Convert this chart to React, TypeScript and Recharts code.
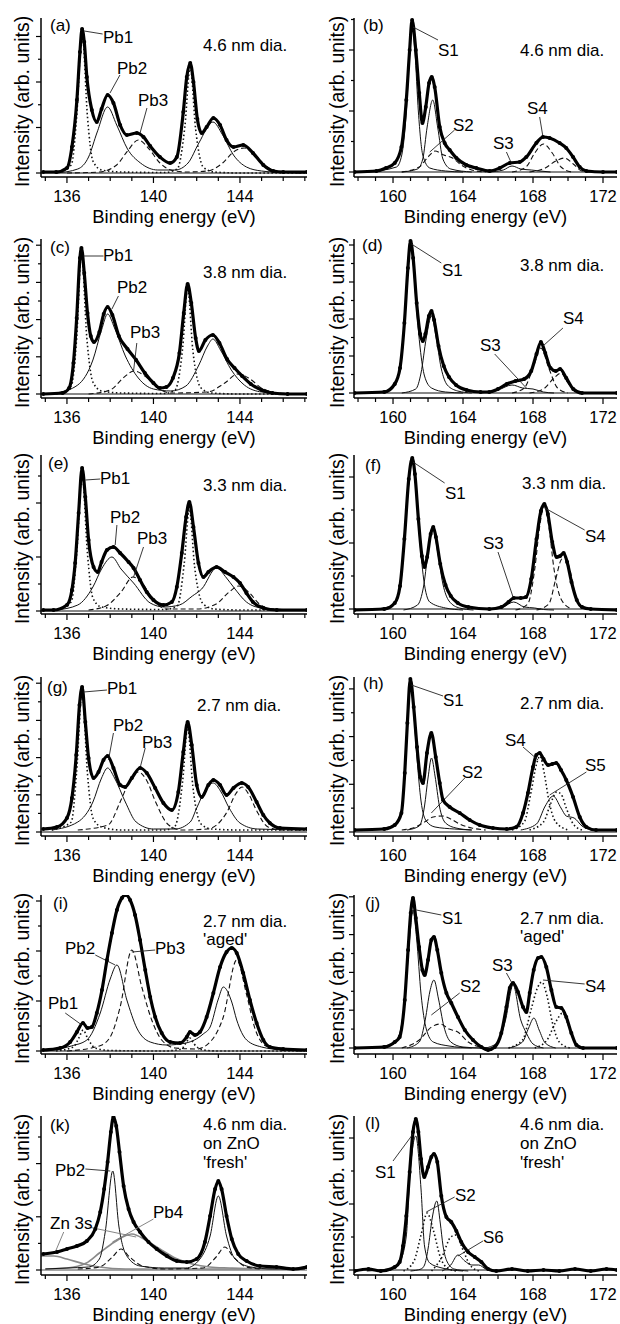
import React from 'react';
import { LineChart, Line, XAxis, YAxis, ReferenceLine } from 'recharts';

type P = [number, number];
type Kind = 'solid' | 'dashed' | 'dotted' | 'gray';

const FONT = '"Liberation Sans", Arial, Helvetica, sans-serif';

// ---- x ticks (eV) ----
const pbTicks = [135, 136, 137, 138, 139, 140, 141, 142, 143, 144, 145, 146, 147];
const sTicks = [158, 159, 160, 161, 162, 163, 164, 165, 166, 167, 168, 169, 170, 171, 172];
const pbDomain: [number, number] = [134.8, 147.1];
const sDomain: [number, number] = [157.77, 172.8];

// ---- (a) Pb 4f, 4.6 nm ----
const aTotal: P[] = [[134.9,5],[135.5,5],[136,9],[136.23,30],[136.46,77],[136.6,125],[136.7,148],[136.8,135],[136.92,100],[137.15,67],[137.38,55],[137.6,68],[137.88,82],[138.15,74],[138.46,52],[138.77,42],[139.23,44],[139.54,40],[139.85,31],[140.3,20],[140.77,14],[141.08,20],[141.38,65],[141.54,100],[141.7,114],[141.85,95],[142.03,58],[142.23,44],[142.46,50],[142.77,59],[143.08,52],[143.38,37],[143.7,30],[144.15,32],[144.6,24],[145.08,12],[145.54,6],[146,5],[147.1,5]];
const aPb1: P[] = [[135.5,4],[136.2,12],[136.45,60],[136.7,145],[136.95,60],[137.2,16],[137.6,7],[138.5,5],[140.5,4.5],[141.1,8],[141.45,50],[141.7,110],[141.95,48],[142.3,10],[142.8,5],[144,4],[147,4]];
const aPb2: P[] = [[135.5,4],[136.5,8],[137,20],[137.4,45],[137.88,70],[138.3,52],[138.8,28],[139.4,14],[140.2,7],[141,7],[141.6,14],[142.1,34],[142.75,55],[143.2,42],[143.7,22],[144.3,10],[145,6],[146,4.5],[147,4]];
const aPb3: P[] = [[136,4],[137.5,5],[138.3,12],[138.8,26],[139.3,37],[139.8,28],[140.3,14],[140.8,7],[141.5,5],[142.5,6],[143.2,14],[143.7,25],[144.2,29],[144.7,22],[145.2,11],[145.8,5],[147,4]];

// ---- (b) S 2p, 4.6 nm ----
const bTotal: P[] = [[157.8,5],[159.05,6],[159.6,9],[160.1,14],[160.48,30],[160.76,77],[160.95,127],[161.09,157],[161.3,127],[161.5,84],[161.68,54],[161.87,70],[162.06,94],[162.21,100],[162.38,90],[162.67,50],[162.95,34],[163.24,27],[163.62,19],[164.19,12],[164.76,9],[165.52,6],[166.1,9],[166.67,14],[167.24,15],[167.62,20],[168.19,34],[168.57,40],[168.95,39],[169.52,34],[169.9,29],[170.29,20],[170.67,10],[171.05,6],[172,5],[172.8,5]];
const bS1: P[] = [[158.5,5],[160.2,10],[160.5,22],[160.76,65],[160.95,125],[161.09,152],[161.25,125],[161.45,65],[161.7,22],[162.1,9],[163,6],[164,5]];
const bS1b: P[] = [[160.5,5],[161.4,8],[161.7,18],[161.95,50],[162.27,77],[162.55,50],[162.85,18],[163.3,8],[164.5,5]];
const bS2: P[] = [[160.5,5],[161.5,10],[162,20],[162.4,26],[162.9,22],[163.4,19],[163.9,12],[164.5,7],[165.3,5]];
const bS3: P[] = [[165.5,5],[166.3,7],[166.8,11],[167.3,8],[167.9,7],[168.4,6],[169,5]];
const bS4: P[] = [[166.8,5],[167.6,10],[168.1,24],[168.6,33],[169.1,24],[169.6,10],[170.2,5]];
const bS4b: P[] = [[167.8,5],[168.7,9],[169.3,16],[169.8,19],[170.3,13],[170.8,6],[171.3,5]];

// ---- (c) Pb 4f, 3.8 nm ----
const cTotal: P[] = [[134.9,4],[135.8,5],[136.1,10],[136.3,35],[136.45,80],[136.6,140],[136.67,150],[136.8,125],[136.95,85],[137.1,62],[137.25,56],[137.5,66],[137.7,84],[137.88,91],[138.1,83],[138.4,62],[138.8,49],[139.2,38],[139.6,25],[140,15],[140.3,10],[140.6,11],[140.9,20],[141.2,45],[141.4,85],[141.58,114],[141.75,95],[141.95,60],[142.1,47],[142.4,58],[142.75,63],[143.05,55],[143.4,39],[143.75,30],[144.1,22],[144.5,14],[145,8],[145.5,5],[146.2,4],[147.1,4]];
const cPb1: P[] = [[135.5,4],[136.2,12],[136.45,60],[136.67,145],[136.92,60],[137.2,16],[137.6,7],[138.5,5],[140.5,4.5],[141,8],[141.35,50],[141.58,110],[141.82,48],[142.2,10],[142.7,5],[144,4],[147,4]];
const cPb2: P[] = [[135.5,5],[136.5,13],[137.2,38],[137.6,68],[137.88,84],[138.2,70],[138.7,42],[139.3,20],[140,9],[140.8,7],[141.5,12],[142.1,33],[142.5,52],[142.75,59],[143.1,48],[143.6,28],[144.2,13],[145,6],[146,4.5],[147,4]];
const cPb3: P[] = [[137,4],[138,8],[138.6,20],[139.1,27],[139.6,22],[140.2,10],[140.8,5],[142.5,6],[143.3,15],[143.9,24],[144.4,20],[145,10],[145.8,5],[147,4]];

// ---- (d) S 2p, 3.8 nm ----
const dTotal: P[] = [[157.8,5],[159.5,6],[160.1,14],[160.4,30],[160.65,75],[160.85,130],[161,157],[161.15,140],[161.35,95],[161.55,64],[161.7,57],[161.85,64],[162.05,82],[162.2,87],[162.35,78],[162.6,52],[162.9,32],[163.2,21],[163.6,13],[164.2,8],[165,6],[165.5,6],[166,9],[166.5,14],[167,17],[167.5,19],[167.9,27],[168.2,44],[168.45,56],[168.7,45],[169,30],[169.3,27],[169.55,29],[169.9,20],[170.3,9],[170.8,5],[172.8,5]];
const dS1: P[] = [[158.5,5],[159.8,8],[160.4,28],[160.65,72],[160.85,127],[161,152],[161.15,135],[161.35,88],[161.55,50],[161.8,22],[162.2,10],[163,6],[164,5]];
const dS1b: P[] = [[160.5,5],[161.3,9],[161.6,25],[161.9,60],[162.2,82],[162.45,62],[162.75,30],[163.1,13],[163.7,7],[164.5,5]];
const dS3: P[] = [[165,5],[166,8],[166.8,13],[167.4,10],[168,9],[168.6,6],[169.2,5]];
const dS4: P[] = [[166.8,5],[167.5,10],[168,30],[168.45,50],[168.9,30],[169.4,10],[170,5]];
const dS4b: P[] = [[167.8,5],[168.6,9],[169.2,20],[169.6,25],[170,15],[170.5,6],[171,5]];

// ---- (e) Pb 4f, 3.3 nm ----
const eTotal: P[] = [[134.9,4],[135.38,4],[136,9],[136.23,24],[136.38,51],[136.54,101],[136.7,146],[136.85,117],[137,74],[137.23,47],[137.42,42],[137.6,52],[137.85,64],[138.15,67],[138.46,61],[138.85,52],[139.08,46],[139.38,34],[139.69,22],[140,14],[140.46,9],[140.85,12],[141.08,27],[141.31,61],[141.51,97],[141.66,112],[141.85,87],[142.08,51],[142.31,37],[142.54,42],[142.92,47],[143.31,42],[143.7,37],[144,31],[144.3,21],[144.6,12],[145.08,6],[145.7,4],[147.1,4]];
const ePb1: P[] = [[135.5,4],[136.2,12],[136.45,60],[136.7,140],[136.95,60],[137.2,16],[137.6,7],[138.5,5],[140.5,4.5],[141.1,8],[141.42,50],[141.66,105],[141.9,48],[142.3,10],[142.8,5],[144,4],[147,4]];
const ePb2: P[] = [[135.5,4],[136.5,9],[137.2,27],[137.6,45],[138.08,57],[138.5,45],[139.08,31],[139.85,11],[140.5,7],[141.2,9],[141.8,18],[142.23,25],[142.92,46],[143.38,36],[143.7,27],[144.3,12],[145,6],[146,4.5],[147,4]];
const ePb3: P[] = [[137,4],[137.8,8],[138.5,22],[139.05,37],[139.5,30],[140,14],[140.6,5],[142,5],[142.9,10],[143.5,22],[143.95,28],[144.4,22],[144.9,10],[145.5,5],[147,4]];

// ---- (f) S 2p, 3.3 nm ----
const fTotal: P[] = [[157.8,4],[159.5,5],[160.1,11],[160.4,28],[160.65,75],[160.9,135],[161.1,156],[161.25,140],[161.45,95],[161.65,58],[161.8,47],[161.95,57],[162.15,80],[162.3,87],[162.45,77],[162.7,50],[163,29],[163.3,18],[163.7,11],[164.3,7],[165.5,5],[166.2,7],[166.6,12],[166.9,16],[167.3,16],[167.6,17],[167.9,35],[168.2,75],[168.45,103],[168.65,110],[168.85,100],[169.1,72],[169.35,57],[169.55,58],[169.75,61],[169.95,52],[170.2,32],[170.5,14],[170.8,7],[171.3,5],[172.8,4]];
const fS1: P[] = [[158.5,4],[159.9,8],[160.4,26],[160.65,72],[160.9,130],[161.1,152],[161.3,128],[161.5,80],[161.75,35],[162.1,12],[163,6],[164,4]];
const fS1b: P[] = [[160.6,4],[161.4,9],[161.75,28],[162.05,68],[162.3,84],[162.55,62],[162.85,30],[163.2,13],[163.8,6],[164.6,4]];
const fS3: P[] = [[165.5,4],[166.3,7],[166.9,12],[167.5,7],[168.1,6],[168.6,4.5],[169.2,4]];
const fS4: P[] = [[167,4],[167.7,10],[168.1,45],[168.4,90],[168.65,108],[168.9,88],[169.2,45],[169.6,15],[170.2,5]];
const fS4b: P[] = [[168.2,4],[168.9,10],[169.3,35],[169.6,54],[169.8,57],[170.1,45],[170.4,20],[170.8,7],[171.3,4]];

// ---- (g) Pb 4f, 2.7 nm ----
const gTotal: P[] = [[134.9,7],[135.54,9],[136,18],[136.23,38],[136.43,81],[136.58,131],[136.7,149],[136.85,114],[137,78],[137.23,58],[137.46,64],[137.69,76],[137.88,80],[138.15,68],[138.46,51],[138.69,49],[139,58],[139.38,68],[139.69,63],[140.08,48],[140.46,33],[140.85,26],[141.15,44],[141.38,84],[141.58,114],[141.77,91],[142,51],[142.23,39],[142.54,51],[142.77,56],[143.08,51],[143.38,41],[143.7,48],[144.08,53],[144.38,49],[144.77,34],[145.08,21],[145.38,13],[145.85,8],[147.1,7]];
const gPb1: P[] = [[135.3,6],[136.2,14],[136.45,65],[136.7,145],[136.95,62],[137.2,18],[137.6,9],[138.5,6],[140.5,6],[141,10],[141.35,55],[141.58,108],[141.82,50],[142.2,12],[142.7,7],[144,6],[147,6]];
const gPb2: P[] = [[135.3,6],[136.5,14],[137.2,34],[137.6,58],[137.88,68],[138.2,58],[138.7,34],[139.2,14],[140,7],[141,7],[141.7,14],[142,28],[142.4,46],[142.77,53],[143.1,45],[143.5,28],[144,13],[144.8,7],[147,6]];
const gPb3: P[] = [[136.5,6],[137.9,11],[138.46,34],[138.9,55],[139.3,64],[139.7,55],[140.1,34],[140.7,11],[141.3,6],[142.5,7],[143.4,24],[143.8,42],[144.1,49],[144.4,42],[144.8,24],[145.3,9],[146,6],[147,6]];

// ---- (h) S 2p, 2.7 nm ----
const hTotal: P[] = [[157.8,6],[159.5,7],[160.1,11],[160.48,23],[160.67,63],[160.82,113],[160.99,157],[161.18,129],[161.37,89],[161.56,59],[161.71,53],[161.94,83],[162.19,103],[162.44,79],[162.67,53],[162.86,36],[163.24,29],[163.81,23],[164.38,16],[164.95,11],[165.71,8],[166.5,7],[167.05,9],[167.43,23],[167.71,43],[168,69],[168.19,81],[168.38,83],[168.6,77],[168.86,71],[169.1,72],[169.33,73],[169.6,66],[169.9,56],[170.29,39],[170.67,19],[171.05,9],[171.6,6],[172.8,6]];
const hS1: P[] = [[158.5,6],[160,10],[160.45,24],[160.7,70],[160.85,115],[161,155],[161.18,125],[161.37,78],[161.6,35],[161.9,15],[162.4,9],[163.5,7],[164.5,6]];
const hS1b: P[] = [[160.8,6],[161.5,10],[161.8,30],[162,58],[162.2,78],[162.4,60],[162.65,30],[163,13],[163.6,8],[164.5,6]];
const hS2: P[] = [[160.5,6],[161.3,9],[161.8,14],[162.3,19],[162.8,20],[163.3,17],[163.8,12],[164.5,8],[165.3,6]];
const hS4: P[] = [[166.8,6],[167.5,14],[167.9,45],[168.2,72],[168.4,80],[168.65,62],[168.9,36],[169.3,14],[170,6]];
const hS4b: P[] = [[167.8,6],[168.6,14],[169,32],[169.35,44],[169.6,42],[169.9,28],[170.3,12],[170.8,6]];
const hS5: P[] = [[167.3,6],[168.2,12],[168.7,30],[169.15,40],[169.6,28],[169.9,20],[170.35,18],[170.8,10],[171.3,6]];

// ---- (i) Pb 4f, 2.7 nm aged ----
const iTotal: P[] = [[134.9,4],[135.69,6],[136.15,12],[136.46,22],[136.74,31],[136.95,26],[137.15,27],[137.38,41],[137.62,64],[137.85,94],[138.08,121],[138.31,144],[138.54,156],[138.72,159],[138.92,154],[139.15,139],[139.38,114],[139.62,84],[139.85,57],[140.08,37],[140.38,21],[140.77,12],[141.23,11],[141.54,17],[141.69,22],[141.92,19],[142.15,22],[142.46,37],[142.77,61],[143.08,87],[143.38,102],[143.62,106],[143.85,101],[144.15,81],[144.46,54],[144.77,31],[145.08,14],[145.38,7],[146,5],[147.1,4]];
const iPb1: P[] = [[135.5,3],[136.3,7],[136.55,16],[136.75,24],[136.95,16],[137.3,6],[138,3.5],[140.5,3],[141.3,5],[141.5,11],[141.68,16],[141.88,10],[142.3,4],[143,3],[147,3]];
const iPb2: P[] = [[135,3],[136.2,8],[136.92,14],[137.54,41],[138,75],[138.31,89],[138.77,54],[139.23,26],[139.85,12],[140.62,9],[141.5,11],[142.3,20],[142.62,27],[143,55],[143.23,67],[143.62,52],[143.85,34],[144.31,14],[145,7],[146,4],[147,3]];
const iPb3: P[] = [[136,3],[137.5,8],[138,17],[138.46,47],[139,104],[139.46,67],[139.92,34],[140.38,14],[141,6],[142,5],[142.7,14],[143.23,37],[143.85,94],[144.3,60],[144.7,25],[145.2,8],[146,4],[147,3]];

// ---- (j) S 2p, 2.7 nm aged ----
const jTotal: P[] = [[157.8,6],[159.5,7],[160.1,12],[160.38,17],[160.67,54],[160.86,104],[161.01,141],[161.14,156],[161.3,136],[161.49,107],[161.68,84],[161.81,79],[162,94],[162.19,114],[162.34,117],[162.53,104],[162.76,81],[163.05,61],[163.33,51],[163.71,37],[164.1,24],[164.57,14],[165.05,7],[165.43,4],[165.81,7],[166.19,21],[166.48,47],[166.67,66],[166.86,71],[167.14,62],[167.43,47],[167.62,42],[167.81,61],[168.04,84],[168.29,96],[168.48,97],[168.76,87],[169.05,64],[169.33,47],[169.62,46],[169.9,37],[170.19,21],[170.48,9],[170.86,6],[172.8,6]];
const jS1: P[] = [[158.5,6],[160,10],[160.4,22],[160.7,60],[160.95,115],[161.14,144],[161.35,115],[161.6,60],[161.9,25],[162.3,12],[163.2,8],[164.5,6]];
const jS1b: P[] = [[160.8,6],[161.5,12],[161.85,35],[162.1,62],[162.34,74],[162.6,55],[162.9,28],[163.3,12],[164,7],[165,6]];
const jS2: P[] = [[160.5,6],[161.5,14],[162.2,27],[162.7,30],[163.2,25],[163.7,22],[164.3,12],[165,7],[165.8,6]];
const jS3: P[] = [[165.3,6],[166,12],[166.43,34],[166.86,69],[167.3,34],[167.62,21],[168,10],[168.6,6]];
const jS3b: P[] = [[166.6,6],[167.4,12],[167.75,26],[168.05,36],[168.35,24],[168.7,11],[169.3,6]];
const jS4: P[] = [[166.6,6],[167.4,14],[167.9,45],[168.25,66],[168.5,72],[168.8,58],[169.1,32],[169.5,12],[170.1,6]];
const jS4b: P[] = [[168.1,6],[168.8,14],[169.3,32],[169.7,41],[170,30],[170.4,12],[170.9,6]];

// ---- (k) Pb 4f, 4.6 nm on ZnO fresh ----
const kTotal: P[] = [[134.9,21],[135.54,23],[136,26],[136.46,29],[136.92,34],[137.31,46],[137.54,63],[137.72,86],[137.88,113],[138.03,143],[138.15,158],[138.28,149],[138.43,123],[138.62,89],[138.85,66],[139.08,53],[139.38,43],[139.77,33],[140.15,26],[140.62,19],[141.08,14],[141.54,13],[142,16],[142.38,33],[142.62,59],[142.85,86],[143,94],[143.15,86],[143.38,59],[143.62,36],[143.92,21],[144.31,14],[144.92,9],[145.69,8],[146.46,6],[147.1,8]];
const kPb2: P[] = [[135,6],[136,7],[137,8],[137.5,16],[137.77,43],[138.12,104],[138.4,49],[138.77,19],[139.38,9],[140.5,7],[141.5,7],[142.15,16],[142.62,39],[143,79],[143.38,39],[143.77,16],[144.5,8],[145.5,6],[147,6]];
const kPb3: P[] = [[136.5,6],[137.5,8],[138.1,18],[138.5,26],[138.9,18],[139.5,9],[140.5,6],[142.3,7],[142.9,18],[143.3,28],[143.7,18],[144.3,8],[145,6]];
const kPb4: P[] = [[135,6],[136,7],[136.9,12],[137.5,22],[138.2,33],[139,41],[139.7,34],[140.3,26],[141,17],[141.8,11],[142.6,8],[143.5,7],[145,6],[147,6]];
const kZn: P[] = [[134.8,19],[135.4,19],[136,16],[136.8,11],[137.5,8],[138.7,6],[141,6],[147,6]];

// ---- (l) S 2p, 4.6 nm on ZnO fresh ----
const lTotal: P[] = [[157.8,4],[158.6,6],[159.3,4],[160.1,8],[160.38,13],[160.57,29],[160.76,59],[160.95,103],[161.14,143],[161.3,156],[161.45,143],[161.6,116],[161.79,98],[162,108],[162.19,118],[162.34,121],[162.53,113],[162.76,79],[163.05,58],[163.33,53],[163.62,44],[163.9,33],[164.29,23],[164.67,18],[165.05,13],[165.43,6],[165.9,4],[166.8,6],[167.7,4],[168.6,5],[169.5,4],[170.4,6],[171.3,4],[172.2,6],[172.8,5]];
const lS1: P[] = [[158.5,4],[160,7],[160.38,13],[160.76,39],[160.95,96],[161.3,139],[161.6,86],[161.8,29],[162.1,12],[162.8,7],[164,4]];
const lS1b: P[] = [[161,4],[161.6,6],[161.8,10],[162,26],[162.25,58],[162.5,74],[162.7,52],[162.86,29],[163.1,13],[163.5,6],[164.3,4]];
const lS2: P[] = [[160.6,4],[161.2,14],[161.6,40],[161.95,62],[162.3,45],[162.7,18],[163.1,7],[163.6,4]];
const lS2b: P[] = [[162.2,4],[162.8,18],[163.3,38],[163.6,40],[164,25],[164.4,10],[164.9,4]];
const lS6: P[] = [[162.8,4],[163.3,10],[163.71,20],[164.1,14],[164.5,10],[164.9,10],[165.3,6],[165.8,4]];

type Comp = { data: P[]; kind: Kind };
type Panel = {
  id: string;
  col: 0 | 1;
  bottom: number;
  base: number;
  step: number;
  baseKind?: Kind;
  total: P[];
  comps: Comp[];
  leaders: [P, P][];
};

const panels: Panel[] = [
  { id: 'a', col: 0, bottom: 177, base: 4, step: 45.5, total: aTotal,
    comps: [{ data: aPb1, kind: 'dotted' }, { data: aPb2, kind: 'solid' }, { data: aPb3, kind: 'dashed' }],
    leaders: [[[136.8, 146], [137.65, 143]], [[137.99, 84], [138.45, 102]], [[139.7, 69], [139.38, 44]]] },
  { id: 'b', col: 1, bottom: 177, base: 5, step: 61, total: bTotal,
    comps: [{ data: bS1, kind: 'solid' }, { data: bS1b, kind: 'solid' }, { data: bS2, kind: 'dashed' }, { data: bS3, kind: 'solid' }, { data: bS4, kind: 'dashed' }, { data: bS4b, kind: 'dashed' }],
    leaders: [[[161.14, 150], [162.57, 137]], [[163.52, 47], [162.1, 25]], [[166.48, 25], [166.76, 14]], [[168.38, 60], [168.57, 40]]] },
  { id: 'c', col: 0, bottom: 398, base: 4, step: 37.2, total: cTotal,
    comps: [{ data: cPb1, kind: 'dotted' }, { data: cPb2, kind: 'solid' }, { data: cPb3, kind: 'dashed' }],
    leaders: [[[136.77, 142], [137.69, 142]], [[138.08, 89], [138.38, 102]], [[139.23, 55], [139.08, 27]]] },
  { id: 'd', col: 1, bottom: 398, base: 5, step: 37, total: dTotal,
    comps: [{ data: dS1, kind: 'solid' }, { data: dS1b, kind: 'solid' }, { data: dS3, kind: 'solid' }, { data: dS4, kind: 'dashed' }, { data: dS4b, kind: 'dashed' }],
    leaders: [[[161.05, 154], [162.76, 135]], [[165.81, 44], [167.62, 10]], [[169.71, 70], [168.57, 52]]] },
  { id: 'e', col: 0, bottom: 614, base: 3, step: 54, total: eTotal,
    comps: [{ data: ePb1, kind: 'dotted' }, { data: ePb2, kind: 'solid' }, { data: ePb3, kind: 'dashed' }],
    leaders: [[[136.85, 134], [137.54, 135]], [[138.31, 89], [138.23, 69]], [[139.54, 67], [139.08, 37]]] },
  { id: 'f', col: 1, bottom: 614, base: 5, step: 66, total: fTotal,
    comps: [{ data: fS1, kind: 'solid' }, { data: fS1b, kind: 'solid' }, { data: fS3, kind: 'solid' }, { data: fS4, kind: 'dashed' }, { data: fS4b, kind: 'dashed' }],
    leaders: [[[161.14, 152], [162.95, 131]], [[170.95, 84], [168.57, 107]], [[166, 62], [166.86, 17]]] },
  { id: 'g', col: 0, bottom: 836, base: 4, step: 37.2, total: gTotal,
    comps: [{ data: gPb1, kind: 'dotted' }, { data: gPb2, kind: 'solid' }, { data: gPb3, kind: 'dashed' }],
    leaders: [[[136.77, 144], [137.85, 146]], [[138.15, 103], [137.92, 76]], [[139.62, 88], [139.38, 68]]] },
  { id: 'h', col: 1, bottom: 836, base: 4, step: 47.7, total: hTotal,
    comps: [{ data: hS1, kind: 'solid' }, { data: hS1b, kind: 'solid' }, { data: hS2, kind: 'dashed' }, { data: hS4, kind: 'dotted' }, { data: hS4b, kind: 'dotted' }, { data: hS5, kind: 'solid' }],
    leaders: [[[161.05, 151], [162.86, 140]], [[167.43, 89], [168.29, 76]], [[164.1, 58], [162.19, 23]], [[171.05, 64], [168.95, 41]]] },
  { id: 'i', col: 0, bottom: 1054, base: 3, step: 50, total: iTotal,
    comps: [{ data: iPb1, kind: 'dotted' }, { data: iPb2, kind: 'solid' }, { data: iPb3, kind: 'dashed' }],
    leaders: [[[137.31, 99], [138.23, 89]], [[140.08, 104], [139, 102]], [[135.92, 41], [136.69, 29]]] },
  { id: 'j', col: 1, bottom: 1054, base: 6, step: 37.8, total: jTotal,
    comps: [{ data: jS1, kind: 'solid' }, { data: jS1b, kind: 'solid' }, { data: jS2, kind: 'dashed' }, { data: jS3, kind: 'solid' }, { data: jS3b, kind: 'solid' }, { data: jS4, kind: 'dotted' }, { data: jS4b, kind: 'dotted' }],
    leaders: [[[161.33, 144], [162.76, 139]], [[166.48, 81], [166.86, 69]], [[170.95, 70], [168.57, 74]], [[163.81, 61], [162.19, 39]]] },
  { id: 'k', col: 0, bottom: 1275, base: 5, step: 53.2, baseKind: 'gray', total: kTotal,
    comps: [{ data: kZn, kind: 'gray' }, { data: kPb4, kind: 'gray' }, { data: kPb3, kind: 'dashed' }, { data: kPb2, kind: 'solid' }],
    leaders: [[[136.85, 106], [138, 104]], [[140, 56], [138.1, 33]], [[135.85, 43], [135.46, 23]], [[137, 48], [139.2, 38]]] },
  { id: 'l', col: 1, bottom: 1275, base: 5, step: 66, total: lTotal,
    comps: [{ data: lS1, kind: 'solid' }, { data: lS1b, kind: 'solid' }, { data: lS2, kind: 'dotted' }, { data: lS2b, kind: 'dotted' }, { data: lS6, kind: 'solid' }],
    leaders: [[[160, 114], [161.14, 141]], [[163.52, 78], [161.9, 63]], [[165.14, 34], [163.71, 19]]] },
];

// annotation texts (figure pixel positions)
const notes: { t: string; x: number; y: number }[] = [
  { t: '(a)', x: 50, y: 25 }, { t: 'Pb1', x: 103, y: 37 }, { t: 'Pb2', x: 117, y: 68 }, { t: 'Pb3', x: 138, y: 100 }, { t: '4.6 nm dia.', x: 203, y: 45 },
  { t: '(b)', x: 363, y: 25 }, { t: 'S1', x: 438, y: 50 }, { t: 'S2', x: 453, y: 125 }, { t: 'S3', x: 493, y: 143 }, { t: 'S4', x: 527, y: 108 }, { t: '4.6 nm dia.', x: 520, y: 50 },
  { t: '(c)', x: 50, y: 247 }, { t: 'Pb1', x: 103, y: 255 }, { t: 'Pb2', x: 117, y: 287 }, { t: 'Pb3', x: 130, y: 332 }, { t: '3.8 nm dia.', x: 203, y: 272 },
  { t: '(d)', x: 362, y: 245 }, { t: 'S1', x: 442, y: 270 }, { t: 'S3', x: 480, y: 345 }, { t: 'S4', x: 563, y: 318 }, { t: '3.8 nm dia.', x: 520, y: 265 },
  { t: '(e)', x: 48, y: 463 }, { t: 'Pb1', x: 100, y: 478 }, { t: 'Pb2', x: 110, y: 517 }, { t: 'Pb3', x: 137, y: 538 }, { t: '3.3 nm dia.', x: 203, y: 485 },
  { t: '(f)', x: 365, y: 465 }, { t: 'S1', x: 445, y: 493 }, { t: 'S3', x: 483, y: 543 }, { t: 'S4', x: 585, y: 536 }, { t: '3.3 nm dia.', x: 522, y: 483 },
  { t: '(g)', x: 47, y: 687 }, { t: 'Pb1', x: 107, y: 688 }, { t: 'Pb2', x: 113, y: 725 }, { t: 'Pb3', x: 142, y: 742 }, { t: '2.7 nm dia.', x: 197, y: 705 },
  { t: '(h)', x: 363, y: 683 }, { t: 'S1', x: 443, y: 700 }, { t: 'S4', x: 505, y: 740 }, { t: 'S2', x: 462, y: 772 }, { t: 'S5', x: 585, y: 765 }, { t: '2.7 nm dia.', x: 520, y: 703 },
  { t: '(i)', x: 53, y: 903 }, { t: 'Pb2', x: 65, y: 948 }, { t: 'Pb3', x: 155, y: 948 }, { t: 'Pb1', x: 48, y: 1003 }, { t: '2.7 nm dia.', x: 203, y: 921 }, { t: "'aged'", x: 203, y: 939 },
  { t: '(j)', x: 365, y: 903 }, { t: 'S1', x: 442, y: 918 }, { t: 'S3', x: 492, y: 965 }, { t: 'S2', x: 460, y: 986 }, { t: 'S4', x: 585, y: 986 }, { t: '2.7 nm dia.', x: 520, y: 918 }, { t: "'aged'", x: 520, y: 936 },
  { t: '(k)', x: 50, y: 1125 }, { t: 'Pb2', x: 55, y: 1170 }, { t: 'Pb4', x: 153, y: 1212 }, { t: 'Zn 3s', x: 50, y: 1223 }, { t: '4.6 nm dia.', x: 203, y: 1124 }, { t: 'on ZnO', x: 203, y: 1143 }, { t: "'fresh'", x: 203, y: 1162 },
  { t: '(l)', x: 365, y: 1123 }, { t: 'S1', x: 375, y: 1172 }, { t: 'S2', x: 455, y: 1195 }, { t: 'S6', x: 483, y: 1237 }, { t: '4.6 nm dia.', x: 520, y: 1124 }, { t: 'on ZnO', x: 520, y: 1143 }, { t: "'fresh'", x: 520, y: 1162 },
];

const PLOT_H = 159;
const TOP = 8;
const XAXIS_H = 52;

const toObj = (a: P[]) => a.map(([x, y]) => ({ x, y }));

const styleFor = (kind: Kind) => {
  switch (kind) {
    case 'dashed': return { stroke: '#111', strokeWidth: 1.1, strokeDasharray: '5 3' };
    case 'dotted': return { stroke: '#111', strokeWidth: 1.6, strokeDasharray: '1.5 2.5' };
    case 'gray': return { stroke: '#8a8a8a', strokeWidth: 1.6 };
    default: return { stroke: '#111', strokeWidth: 1 };
  }
};

const yTicks = (base: number, step: number) => {
  const out: number[] = [];
  for (let v = base; v <= PLOT_H; v += step / 2) out.push(Math.round(v * 100) / 100);
  return out;
};

const XTick = (props: any) => {
  const { x, y, payload } = props;
  const v = payload.value;
  const major = v % 4 === 0;
  return (
    <g>
      <line x1={x} x2={x} y1={y} y2={y + (major ? 6 : 4)} stroke="#000" strokeWidth={1.2} />
      {major && (
        <text x={x} y={y + 25} textAnchor="middle" fontSize={16.5} fontFamily={FONT} fill="#000">
          {v}
        </text>
      )}
    </g>
  );
};

const YTick = (props: any) => {
  const { x, y, index } = props;
  return <line x1={x} x2={x - (index % 2 === 0 ? 5 : 3)} y1={y} y2={y} stroke="#000" strokeWidth={1.2} />;
};

const xTitle = ({ viewBox }: any) => (
  <text x={viewBox.x + viewBox.width / 2} y={viewBox.y + 45.5} textAnchor="middle" fontSize={18.5} fontFamily={FONT} fill="#000">
    Binding energy (eV)
  </text>
);

const yTitle = (cx: number) => ({ viewBox }: any) => {
  const tx = viewBox.x + cx;
  const ty = viewBox.y + viewBox.height / 2 + 4;
  return (
    <text x={tx} y={ty} transform={`rotate(-90 ${tx} ${ty})`} textAnchor="middle" dominantBaseline="central" fontSize={19.5} fontFamily={FONT} fill="#000">
      Intensity (arb. units)
    </text>
  );
};

function SpectrumPanel({ p }: { p: Panel }) {
  const left = p.col === 0;
  const domain = left ? pbDomain : sDomain;
  const ticks = left ? pbTicks : sTicks;
  const baseline: P[] = [[domain[0], p.base], [domain[1], p.base]];
  return (
    <div style={{ position: 'absolute', left: p.col * 310, top: p.bottom - PLOT_H - TOP }}>
      <LineChart width={310} height={TOP + PLOT_H + XAXIS_H} margin={{ top: TOP, right: 3, bottom: 0, left: 0 }}>
        <XAxis
          type="number"
          dataKey="x"
          domain={domain}
          allowDataOverflow
          ticks={ticks}
          interval={0}
          tickSize={0}
          tickMargin={0}
          tickLine={false}
          tick={XTick}
          height={XAXIS_H}
          axisLine={{ stroke: '#000', strokeWidth: 1.5 }}
          label={xTitle}
        />
        <YAxis
          type="number"
          dataKey="y"
          domain={[0, PLOT_H]}
          allowDataOverflow
          ticks={yTicks(p.base, p.step)}
          interval={0}
          tickSize={0}
          tickMargin={0}
          tickLine={false}
          tick={YTick}
          width={left ? 41 : 44}
          axisLine={{ stroke: '#000', strokeWidth: 1.5 }}
          label={yTitle(left ? 22 : 27)}
        />
        <Line
          data={toObj(baseline)}
          dataKey="y"
          type="linear"
          dot={false}
          isAnimationActive={false}
          {...styleFor(p.baseKind ?? 'solid')}
        />
        {p.comps.map((c, i) => (
          <Line
            key={`c${i}`}
            data={toObj(c.data)}
            dataKey="y"
            type="monotone"
            dot={false}
            isAnimationActive={false}
            {...styleFor(c.kind)}
          />
        ))}
        <Line
          data={toObj(p.total)}
          dataKey="y"
          type="monotone"
          stroke="#000"
          strokeWidth={3.2}
          dot={{ r: 2, fill: '#000', stroke: '#000', strokeWidth: 0 }}
          isAnimationActive={false}
        />
        {p.leaders.map(([a, b], i) => (
          <ReferenceLine
            key={`l${i}`}
            segment={[{ x: a[0], y: a[1] }, { x: b[0], y: b[1] }]}
            stroke={p.id === 'k' && i > 0 ? '#777' : '#222'}
            strokeWidth={0.9}
            ifOverflow="visible"
          />
        ))}
      </LineChart>
    </div>
  );
}

export default function App() {
  return (
    <div style={{ position: 'absolute', left: 0, top: 0, width: 620, height: 1324, background: '#fff', overflow: 'hidden' }}>
      {panels.map((p) => (
        <SpectrumPanel key={p.id} p={p} />
      ))}
      <svg width={620} height={1324} style={{ position: 'absolute', left: 0, top: 0, pointerEvents: 'none' }}>
        {notes.map((n, i) => (
          <text key={i} x={n.x} y={n.y} dominantBaseline="central" fontSize={17} fontFamily={FONT} fill="#000">
            {n.t}
          </text>
        ))}
      </svg>
    </div>
  );
}
